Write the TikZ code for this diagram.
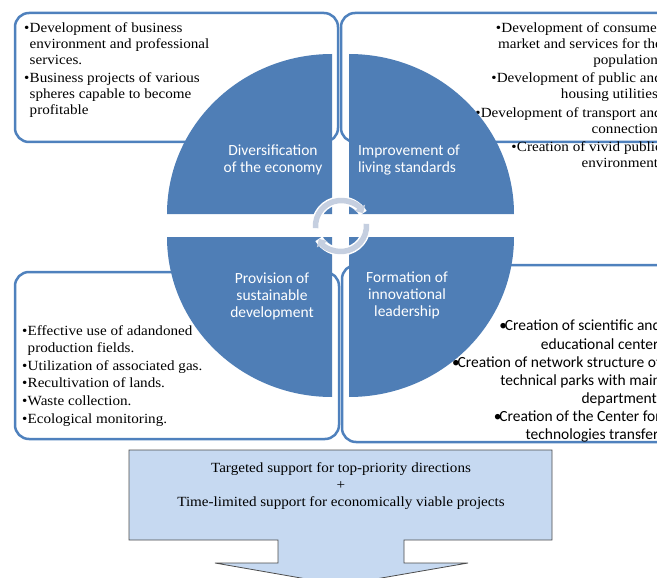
\documentclass[tikz,border=0pt]{standalone}
\usepackage{fontspec}
\setmainfont{Liberation Serif}[FakeStretch=1.08]
\newfontfamily\qfont{Carlito}
\usetikzlibrary{arrows.meta}
\definecolor{qblue}{HTML}{4F7EB6}
\definecolor{bblue}{HTML}{4F81BD}
\definecolor{ringc}{HTML}{C5CFE0}
\definecolor{arrfill}{HTML}{C6D9F1}
\newcommand\bul{\makebox[5.5pt][l]{\textbullet}}
\newcommand\ind{\hspace*{5.5pt}}
\begin{document}
\begin{tikzpicture}[x=1pt,y=-1pt,
  box/.style={draw=bblue, line width=2.5pt, fill=white, rounded corners=14pt},
  quad/.style={fill=qblue},
  qtext/.style={text=white, font=\qfont\fontsize{15.5}{17}\selectfont, align=center, inner sep=0pt},
  stxt/.style={font=\fontsize{14}{16}\selectfont, inner sep=0pt},
  ctxt/.style={font=\qfont\fontsize{15.5}{18.1}\selectfont, inner sep=0pt},
  ringline/.style={draw=ringc, line width=5.5pt},
  ringback/.style={draw=white, line width=8.5pt},
  bigarrow/.style={fill=arrfill, draw=black!70, line width=0.8pt}]
\useasboundingbox (0,0) rectangle (657,578);
% boxes
\draw[box] (15,13) rectangle (338,142);
\draw[box] (341,13) rectangle (700,142);
\draw[box] (15,272) rectangle (339,439);
\draw[box] (342,265) rectangle (700,442);
% box texts
\node[stxt, anchor=north west, align=left] (tltext) at (24,22.5)
 {\bul Development of business\\ \ind environment and professional\\ \ind services.\\[2pt]
  \bul Business projects of various\\ \ind spheres capable to become\\ \ind profitable};
\node[stxt, anchor=north east, align=right] (trtext) at (662,22)
 {\bul Development of consumer\\ market and services for the\\ population.\\[2.5pt]
  \bul Development of public and\\ housing utilities.\\[2.5pt]
  \bul Development of transport and\\ connection.\\[2.5pt]
  \bul Creation of vivid public\\ environment.};
\node[stxt, anchor=north west, align=left, font=\fontsize{14}{17.6}\selectfont] (bltext) at (22,325)
 {\bul Effective use of adandoned\\ \ind production fields.\\
  \bul Utilization of associated gas.\\ \bul Recultivation of lands.\\
  \bul Waste collection.\\ \bul Ecological monitoring.};
\node[ctxt, anchor=north east, align=right] (brtext) at (661,320)
 {\bul Creation of scientific and\\ educational center.\\
  \bul Creation of network structure of\\ technical parks with main\\ department.\\
  \bul Creation of the Center for\\ technologies transfer.};
% quadrants
\fill[quad] (332,214) -- ++(-165,0) arc[start angle=180, end angle=270, x radius=165, y radius=160] -- cycle;
\fill[quad] (349,214) -- ++(0,-160) arc[start angle=270, end angle=360, x radius=165, y radius=160] -- cycle;
\fill[quad] (332,237) -- ++(-165,0) arc[start angle=180, end angle=90, x radius=165, y radius=160] -- cycle;
\fill[quad] (349,237) -- ++(165,0) arc[start angle=0, end angle=90, x radius=165, y radius=160] -- cycle;
\node[qtext] (q1) at (273,160) {Diversification\\of the economy};
\node[qtext, align=left] (q2) at (409,160) {Improvement of\\living standards};
\node[qtext] (q3) at (272,296) {Provision of\\sustainable\\development};
\node[qtext] (q4) at (407,295) {Formation of\\innovational\\leadership};
% ring
\coordinate (rc) at (341,226);
\draw[ringback] (rc) ++(175:25.5) arc[start angle=175, end angle=330, radius=25.5];
\draw[ringback] (rc) ++(-5:25.5) arc[start angle=-5, end angle=150, radius=25.5];
\draw[ringline, -{Triangle[width=12pt,length=6.5pt]}] (rc) ++(175:25.5) arc[start angle=175, end angle=330, radius=25.5];
\draw[ringline, -{Triangle[width=12pt,length=6.5pt]}] (rc) ++(-5:25.5) arc[start angle=-5, end angle=150, radius=25.5];
% bottom arrow
\draw[bigarrow] (129,450) -- (552,450) -- (552,540) -- (404,540) -- (404,563) -- (468,563)
  -- (341,585) -- (215,563) -- (278,563) -- (278,540) -- (129,540) -- cycle;
\node[stxt, align=center, font=\fontsize{14}{17}\selectfont] (arrtext) at (341,486)
 {Targeted support for top-priority directions\\+\\Time-limited support for economically viable projects};
\end{tikzpicture}
\end{document}
